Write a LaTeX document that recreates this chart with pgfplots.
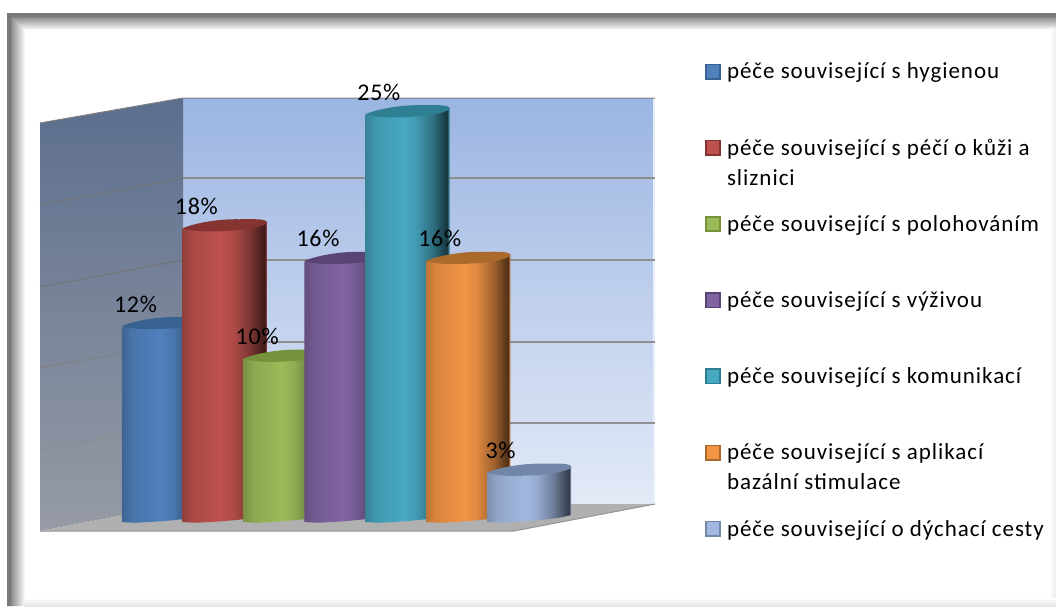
\documentclass[border=0pt]{standalone}
\usepackage{pgfplots}
\usepackage{pgfplotstable}
\usepackage{fontspec}
\pgfplotsset{compat=1.18}
\setmainfont{Carlito}
\newfontfamily\legfont{Carlito}[LetterSpace=4.2]
\newfontfamily\numfont{Carlito}[LetterSpace=3]

% series colours: face and top cap
\definecolor{cA}{HTML}{4F81BD}\definecolor{kA}{HTML}{3A6291}
\definecolor{cB}{HTML}{BD514D}\definecolor{kB}{HTML}{853431}
\definecolor{cC}{HTML}{9BBB59}\definecolor{kC}{HTML}{76923C}
\definecolor{cD}{HTML}{8064A2}\definecolor{kD}{HTML}{5A4476}
\definecolor{cE}{HTML}{47A8C2}\definecolor{kE}{HTML}{2F7F93}
\definecolor{cF}{HTML}{F29446}\definecolor{kF}{HTML}{A96A2C}
\definecolor{cG}{HTML}{A2B8E0}\definecolor{kG}{HTML}{7186A8}

% horizontal shading that gives each cylinder its round look
\newcommand\cylshading[1]{%
  \pgfdeclarehorizontalshading{cyl#1}{100bp}{%
    color(0bp)=(c#1!78!black);
    color(25bp)=(c#1!78!black);
    color(31bp)=(c#1!90!black);
    color(47.5bp)=(c#1);
    color(55bp)=(c#1!92!black);
    color(65bp)=(c#1!66!black);
    color(71.5bp)=(c#1!40!black);
    color(73.8bp)=(c#1!33!black);
    color(74.2bp)=(c#1!70!black);
    color(100bp)=(c#1!70!black)}}
\cylshading{A}\cylshading{B}\cylshading{C}\cylshading{D}\cylshading{E}\cylshading{F}\cylshading{G}

% tilted top face of a cylinder
\pgfdeclareplotmark{cylcap}{%
  \pgfpathmoveto{\pgfqpoint{-42.2pt}{-3pt}}%
  \pgfpathcurveto{\pgfqpoint{-34pt}{0.5pt}}{\pgfqpoint{-12pt}{6.5pt}}{\pgfqpoint{15pt}{6pt}}%
  \pgfpathcurveto{\pgfqpoint{30pt}{6.2pt}}{\pgfqpoint{41pt}{6.5pt}}{\pgfqpoint{42.2pt}{3pt}}%
  \pgfpathcurveto{\pgfqpoint{42.2pt}{0pt}}{\pgfqpoint{30pt}{-3.5pt}}{\pgfqpoint{10pt}{-5.2pt}}%
  \pgfpathcurveto{\pgfqpoint{-5pt}{-6.3pt}}{\pgfqpoint{-30pt}{-7.5pt}}{\pgfqpoint{-42.2pt}{-3pt}}%
  \pgfpathclose
  \pgfusepathqfill}

% outline of a cylinder: dx in categories, fixed offset in percent, share of the value
\pgfplotstableread{
dx      off     t
-0.692  -0.215  0
-0.692  -0.215  1
0.692   0.215   1
0.692   0.215   0
0.485   0.041   0
0.208   -0.082  0
0       -0.153  0
-0.208  -0.21   0
-0.485  -0.26   0
}\cylprofile

\newcommand\legtext[1]{\raisebox{-8pt}[0pt][0pt]{\parbox[t]{325pt}{\legfont\fontsize{23}{30}\selectfont\raggedright #1}}}

% one cylinder: position, value, colour key, legend text
\newcommand\cylinder[4]{%
  \addplot[forget plot, draw=none, shade, shading=cyl#3]
    table[x expr=#1+\thisrow{dx}, y expr=\thisrow{off}+#2*\thisrow{t}] {\cylprofile} --cycle;
  \addplot[forget plot, only marks, mark=cylcap, mark options={fill=k#3, draw=none},
      point meta=y, nodes near coords={\pgfmathprintnumber[assume math mode=true]{\pgfplotspointmeta}\%},
      every node near coord/.style={font=\numfont\fontsize{24}{24}\selectfont, text=black,
        anchor=center, xshift=-28.5pt, yshift=19pt}]
    coordinates {(#1,#2)};
  \addlegendimage{legend image code/.code={\draw[draw=k#3, fill=c#3, line width=1.6pt] (0.8pt,-7.2pt) rectangle (15.2pt,7.2pt);}}
  \addlegendentry{\legtext{#4}}
}

\begin{document}
\begin{tikzpicture}
% frame, walls and floor, in a coordinate system of the sheet
\begin{axis}[scale only axis, width=1056pt, height=606pt, hide axis,
    xmin=0, xmax=1056, ymin=0, ymax=606, y dir=reverse]
  \addplot[draw=none, fill=white] coordinates {(0,0) (1056,0) (1056,606) (0,606)} --cycle;
  % window frame with soft inner shadow
  \addplot[draw=none, top color=gray!90, bottom color=white] coordinates {(11,17) (1056,17) (1056,30) (11,30)} --cycle;
  \addplot[draw=none, left color=gray!90, right color=white] coordinates {(11,17) (25,30) (25,606) (11,606)} --cycle;
  \addplot[draw=none, left color=white, right color=black!7] coordinates {(1049,28) (1056,28) (1056,606) (1049,606)} --cycle;
  \addplot[draw=none, top color=white, bottom color=black!10] coordinates {(24,598) (1056,598) (1056,606) (24,606)} --cycle;
  \addplot[draw=none, fill=black!52] coordinates {(7,13) (1056,13) (1056,17) (11,17) (11,606) (7,606)} --cycle;
  % back wall
  \addplot[draw=none, top color={rgb,255:red,155;green,181;blue,226}, bottom color={rgb,255:red,227;green,234;blue,247}]
    coordinates {(183,98) (653,98) (653,504) (183,504)} --cycle;
  \addplot[draw=none, fill={rgb,255:red,232;green,238;blue,250}] coordinates {(653,98) (655,98) (655,504) (653,504)} --cycle;
  % side wall
  \addplot[draw=none, top color={rgb,255:red,92;green,110;blue,142}, bottom color={rgb,255:red,150;green,155;blue,165}]
    coordinates {(40,123) (183,98) (183,504) (40,531)} --cycle;
  % floor
  \addplot[draw=none, fill=black!31] coordinates {(40,531) (183,504) (655,504) (514,531)} --cycle;
  \addplot[color=black!42, line width=1pt] coordinates {(40,531) (514,531) (655,504)};
  % gridlines
  \addplot[color=black!50, line width=1pt] coordinates {(40,123) (183,98) (655,98)};
  \addplot[color=black!44, line width=2pt] coordinates {(183,178) (655,178)};
  \addplot[color=black!44, line width=2pt] coordinates {(183,260) (655,260)};
  \addplot[color=black!44, line width=1.7pt] coordinates {(183,342) (655,342)};
  \addplot[color=black!44, line width=1.4pt] coordinates {(183,423) (655,423)};
  \addplot[color=black!55, line width=0.9pt] coordinates {(40,205) (183,178)};
  \addplot[color=black!55, line width=0.9pt] coordinates {(40,287) (183,260)};
  \addplot[color=black!50, line width=0.9pt] coordinates {(40,368) (183,342)};
  \addplot[color=black!45, line width=0.9pt] coordinates {(40,450) (183,423)};
\end{axis}
% cylinders, value labels and legend, with the vertical axis in percent
\begin{axis}[scale only axis, width=1056pt, height=606pt, hide axis,
    clip mode=individual,
    xmin=-2.6951, xmax=14.659, ymin=-5.368, ymax=31.825,
    legend cell align=left,
    legend style={at={(0.6676,0.8950)}, anchor=north west, draw=none, fill=none,
      inner sep=0pt, outer sep=0pt, row sep=60.2pt,
      nodes={inner sep=0pt, outer sep=0pt},
      /tikz/every odd column/.append style={column sep=6pt}}]
  \cylinder{0}{12}{A}{péče související s hygienou}
  \cylinder{1}{18}{B}{péče související s péčí o kůži a\newline sliznici}
  \cylinder{2}{10}{C}{péče související s polohováním}
  \cylinder{3}{16}{D}{péče související s výživou}
  \cylinder{4}{25}{E}{péče související s komunikací}
  \cylinder{5}{16}{F}{péče související s aplikací\newline bazální stimulace}
  \cylinder{6}{3}{G}{péče související o dýchací cesty}
\end{axis}
\end{tikzpicture}
\end{document}
